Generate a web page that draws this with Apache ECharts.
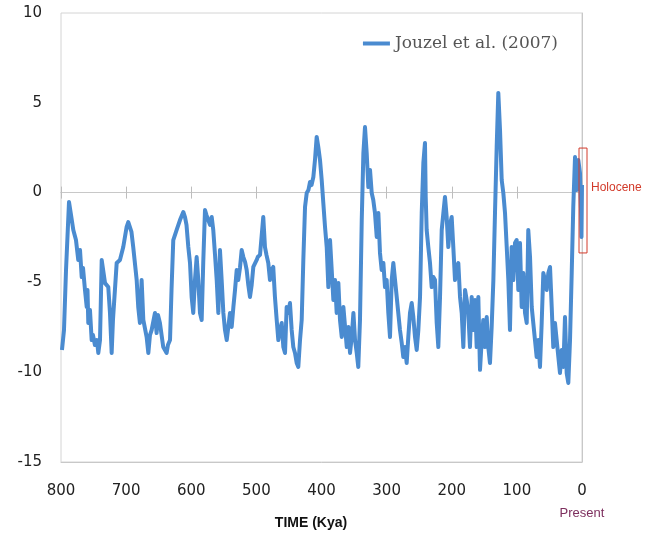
<!DOCTYPE html>
<html>
<head>
<meta charset="utf-8">
<script src="https://cdn.jsdelivr.net/npm/echarts@6/dist/echarts.min.js"></script>
<style>
html,body{margin:0;padding:0;background:#fff;}
#chart{width:649px;height:535px;}
</style>
</head>
<body>
<div id="chart"></div>
<script>
// Time before present (kyr) and temperature anomaly (°C)
var kyrAgo = [798.5,795.4,792.3,787.7,784.6,781.1,777.0,773.5,770.8,768.2,766.2,763.2,760.5,759.3,758.1,755.5,752.9,750.9,747.9,744.8,742.7,740.1,737.5,735.5,732.4,727.4,724.8,722.2,720.2,714.5,709.5,704.4,699.2,696.7,694.1,691.8,689.1,683.8,681.4,678.8,676.2,673.6,668.5,665.9,663.4,660.8,655.7,653.2,651.1,648.1,643.0,637.8,635.8,632.6,630.3,627.6,622.4,617.3,612.2,609.6,607.3,604.5,601.9,599.4,596.9,594.3,591.7,589.2,586.6,584.0,581.6,578.9,576.6,573.8,571.2,568.6,566.2,563.5,560.9,558.4,555.9,553.3,550.7,548.2,545.5,543.1,540.5,537.9,535.3,532.8,530.2,527.8,525.2,522.6,520.0,517.4,514.9,512.4,509.8,507.2,504.7,499.5,497.9,494.4,492.7,489.4,486.8,484.5,481.7,479.1,476.8,474.1,471.5,468.8,466.3,463.7,461.1,458.6,456.0,453.5,451.0,448.4,445.8,443.3,440.7,438.1,435.6,433.0,430.4,427.9,425.3,422.7,420.1,417.6,415.3,412.5,410.0,407.4,404.9,402.3,399.7,397.2,394.6,392.0,389.5,386.9,384.3,381.8,379.2,376.7,374.1,371.6,368.9,366.4,363.8,361.2,358.7,356.2,353.6,351.0,348.5,345.9,343.5,340.9,338.2,335.7,333.2,330.6,328.1,325.5,322.9,320.5,317.9,315.2,312.7,310.2,307.6,305.0,302.5,299.9,297.4,294.8,292.2,289.7,287.1,284.5,282.1,279.5,276.8,274.4,271.8,269.2,266.7,264.1,261.5,259.0,256.4,253.8,251.3,248.7,246.1,243.6,241.1,240.0,238.5,236.0,233.4,230.8,228.3,225.7,223.1,220.6,218.0,215.4,212.9,210.4,207.8,205.3,202.7,200.1,197.6,195.0,192.4,189.9,187.3,184.7,182.2,179.6,177.0,174.6,172.0,169.4,166.9,164.3,161.7,159.2,156.6,154.0,151.6,149.0,146.3,143.9,141.3,138.7,136.1,133.6,131.0,128.5,125.9,123.3,120.8,118.2,115.6,113.1,110.6,108.0,105.5,102.9,100.3,97.8,95.2,92.6,90.1,87.5,84.9,82.5,79.8,77.2,74.8,72.2,69.6,67.1,64.5,61.9,59.4,56.8,54.2,51.7,49.1,46.5,44.1,41.5,38.9,36.3,33.8,31.2,28.6,26.1,23.5,21.0,18.4,15.8,13.4,10.7,8.1,5.7,3.1,1.5,0.8,0.0];
var tempAnomaly = [-8.76,-7.65,-4.31,-0.52,-1.25,-2.08,-2.64,-3.75,-3.20,-4.70,-4.20,-5.42,-6.37,-5.42,-7.26,-6.54,-8.21,-7.93,-8.49,-8.21,-8.93,-8.21,-3.75,-3.64,-5.04,-5.26,-6.70,-8.93,-7.09,-3.92,-3.75,-3.03,-1.91,-1.64,-1.69,-2.19,-3.03,-4.87,-6.37,-7.26,-4.87,-7.09,-8.04,-8.93,-7.93,-7.65,-6.70,-7.82,-6.82,-7.26,-8.60,-8.93,-8.49,-8.21,-5.42,-2.64,-2.08,-1.53,-1.08,-1.36,-1.80,-3.03,-3.92,-5.81,-6.70,-4.87,-3.59,-4.87,-6.70,-7.09,-3.92,-0.97,-1.25,-1.14,-1.80,-1.36,-2.08,-3.47,-4.87,-6.70,-3.20,-4.87,-6.70,-7.65,-8.21,-7.48,-6.70,-7.48,-6.37,-5.42,-4.31,-4.87,-4.20,-3.20,-3.59,-3.86,-4.31,-5.14,-5.81,-5.14,-4.14,-3.75,-3.59,-3.47,-3.36,-1.36,-3.03,-3.47,-3.92,-4.87,-4.31,-4.14,-5.81,-7.09,-8.21,-7.65,-7.26,-8.60,-8.93,-6.37,-6.70,-6.15,-7.65,-8.60,-8.93,-9.49,-9.71,-8.21,-7.09,-3.75,-0.80,-0.02,0.14,0.59,0.42,0.87,1.82,3.10,2.54,1.82,0.70,-0.58,-1.91,-3.03,-5.26,-2.64,-4.31,-5.98,-4.87,-6.70,-5.03,-7.09,-8.04,-6.37,-7.48,-8.60,-7.48,-8.93,-8.04,-6.70,-8.21,-8.93,-9.71,-7.09,-1.53,2.20,3.65,2.20,0.31,1.26,-0.02,-0.41,-1.14,-2.47,-1.14,-3.36,-4.31,-3.92,-5.26,-4.87,-6.70,-8.04,-4.87,-3.92,-4.87,-5.81,-6.70,-7.65,-8.38,-9.16,-8.60,-9.49,-8.04,-6.70,-6.15,-6.93,-8.04,-8.76,-7.65,-5.81,-1.14,1.65,2.76,-0.24,-2.08,-3.03,-3.92,-5.26,-4.70,-4.87,-7.26,-8.60,-5.81,-2.08,-1.14,-0.24,-1.36,-3.03,-1.80,-1.36,-3.03,-4.87,-4.14,-3.92,-5.81,-6.70,-8.60,-5.42,-5.98,-6.70,-8.60,-5.81,-7.65,-5.98,-8.60,-5.81,-9.87,-8.21,-7.09,-8.60,-6.93,-8.60,-9.49,-7.48,-4.87,-1.14,2.54,5.55,3.49,0.70,-0.02,-1.14,-3.03,-4.87,-7.65,-3.03,-4.87,-2.81,-2.64,-5.42,-2.81,-6.37,-4.48,-6.70,-7.26,-2.08,-3.59,-6.37,-7.26,-8.21,-9.16,-8.21,-9.71,-7.26,-4.48,-4.87,-5.42,-4.48,-4.14,-6.37,-8.60,-7.26,-8.21,-9.16,-10.05,-8.76,-9.71,-6.93,-10.05,-10.60,-8.21,-4.48,-0.80,1.98,0.14,1.82,1.09,-0.97,-2.47,0.42];
var xTicks = [800,700,600,500,400,300,200,100,0];
var yTicks = [10,5,0,-5,-10,-15];
var seriesName = 'Jouzel et al. (2007)';
// Holocene annotation box (kyr range, value range)
var holoceneKyr = [4.6, -7.7];
var holoceneVal = [2.48, -3.36];

var data = kyrAgo.map(function (k, i) { return [k, tempAnomaly[i]]; });

var chart = echarts.init(document.getElementById('chart'), null, {renderer: 'canvas'});
var gridBox = {left: 61, right: 67, top: 13, bottom: 73};
var gray = '#c8c8c8';
var labelFont = {fontFamily: 'DejaVu Sans', fontSize: 15, color: '#222'};

function hiddenY(gi) {
  return {type: 'value', gridIndex: gi, min: -15, max: 10, interval: 5, show: false};
}
function zeroX(gi, pos) {
  return {type: 'value', gridIndex: gi, inverse: true, min: 0, max: 800, interval: 100, position: pos,
    axisLine: {show: true, onZero: true, lineStyle: {color: gray, width: 1}},
    axisTick: {show: true, length: 6, lineStyle: {color: '#bdbdbd', width: 1}},
    axisLabel: {show: false}, splitLine: {show: false}};
}

var option = {
  backgroundColor: '#fff',
  animation: false,
  grid: [
    Object.assign({show: true, borderColor: '#d4d4d4', borderWidth: 1, backgroundColor: 'transparent'}, gridBox),
    Object.assign({}, gridBox),
    Object.assign({}, gridBox)
  ],
  legend: {
    data: [seriesName], right: 86, top: 30,
    icon: 'rect', itemWidth: 27, itemHeight: 4, itemGap: 6,
    textStyle: {fontFamily: 'DejaVu Serif', fontSize: 17, color: '#555'}
  },
  xAxis: [
    {type: 'value', gridIndex: 0, inverse: true, min: 0, max: 800, interval: 100, position: 'bottom',
      axisLine: {show: true, onZero: false, lineStyle: {color: gray}},
      axisTick: {show: false}, splitLine: {show: false},
      axisLabel: Object.assign({margin: 22}, labelFont)},
    zeroX(1, 'top'),
    zeroX(2, 'bottom')
  ],
  yAxis: [
    {type: 'value', gridIndex: 0, min: -15, max: 10, interval: 5,
      axisLine: {show: true, lineStyle: {color: gray}},
      axisTick: {show: false}, splitLine: {show: false},
      axisLabel: Object.assign({margin: 19}, labelFont)},
    hiddenY(1), hiddenY(2)
  ],
  series: [{
    name: seriesName, type: 'line', xAxisIndex: 0, yAxisIndex: 0,
    data: data, showSymbol: false, symbol: 'none',
    lineStyle: {color: '#4a8bd0', width: 4, join: 'round'},
    itemStyle: {color: '#4a8bd0'}, z: 3
  }]
};
chart.setOption(option);

var p1 = chart.convertToPixel({gridIndex: 0}, [holoceneKyr[0], holoceneVal[0]]);
var p2 = chart.convertToPixel({gridIndex: 0}, [holoceneKyr[1], holoceneVal[1]]);
var presentPx = chart.convertToPixel({gridIndex: 0}, [0, -15]);
chart.setOption({
  graphic: [
    {type: 'rect', z: 10, shape: {x: Math.min(p1[0], p2[0]), y: Math.min(p1[1], p2[1]), width: Math.abs(p2[0] - p1[0]), height: Math.abs(p2[1] - p1[1])},
      style: {fill: 'none', stroke: '#d23a2a', lineWidth: 1}},
    {type: 'text', z: 10, left: Math.max(p1[0], p2[0]) + 4, top: (p1[1] + p2[1]) / 2 - 19,
      style: {text: 'Holocene', fill: '#d23a2a', font: '12px "Liberation Sans", Arial, sans-serif'}},
    {type: 'text', z: 10, x: presentPx[0], y: 507,
      style: {text: 'Present', fill: '#7d2f5e', font: '13px "Liberation Sans", Arial, sans-serif', align: 'center'}},
    {type: 'text', z: 10, x: 311, y: 516,
      style: {text: 'TIME (Kya)', fill: '#111', font: 'bold 14px "Liberation Sans", Arial, sans-serif', align: 'center'}}
  ]
});
</script>
</body>
</html>
